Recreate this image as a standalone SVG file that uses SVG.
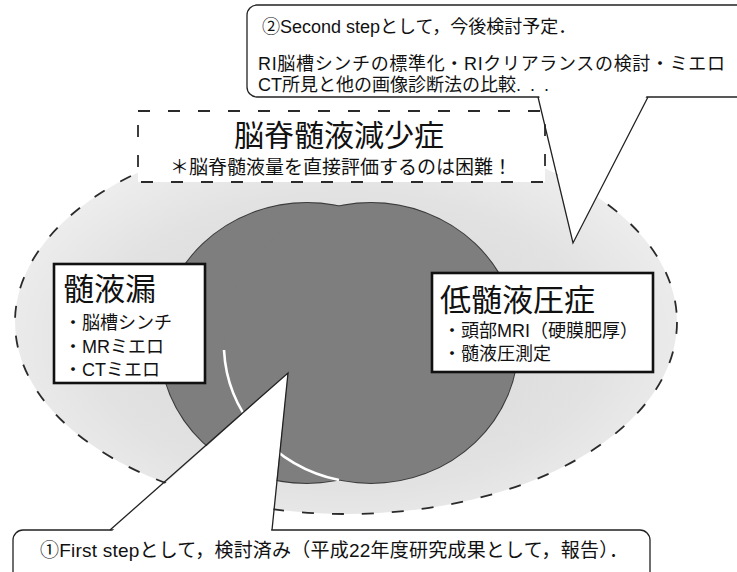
<svg xmlns="http://www.w3.org/2000/svg" width="737" height="572" viewBox="0 0 737 572">
<defs>
<radialGradient id="speck" cx="0.5" cy="0.55" r="0.55">
<stop offset="0" stop-color="#d6d6d6"/>
<stop offset="0.7" stop-color="#e2e2e2"/>
<stop offset="1" stop-color="#eeeeee"/>
</radialGradient>
<style>
text{font-family:"Liberation Sans","Noto Sans CJK JP",sans-serif;fill:#111}
.dash{fill:none;stroke:#2a2a2a;stroke-width:1.8;stroke-dasharray:12 18}
.box{fill:#fff;stroke:#111;stroke-width:2.6}
.call{fill:#fff;stroke:#222;stroke-width:1.3}
.ptr{fill:#fff;stroke:none}
.pl{stroke:#222;stroke-width:1.3;fill:none}
.big{font-size:31px}
.item{font-size:18px}
.note{font-size:18px}
</style>
</defs>
<rect width="737" height="572" fill="#fff"/>

<g id="csf-hypovolemia-field">
<ellipse cx="346" cy="322" rx="331" ry="192" fill="url(#speck)"/>
<ellipse cx="346" cy="322" rx="331" ry="192" class="dash"/>
</g>

<g id="overlap">
<ellipse cx="307" cy="343" rx="147" ry="140" fill="#555" stroke="#3a3a3a" stroke-width="2"/>
<ellipse cx="371" cy="343" rx="147" ry="140" fill="#555" stroke="#3a3a3a" stroke-width="2"/>
<ellipse cx="307" cy="343" rx="147" ry="140" fill="#7e7e7e"/>
<ellipse cx="371" cy="343" rx="147" ry="140" fill="#7e7e7e"/>
<path d="M224 350 A147 140 0 0 0 339 480" fill="none" stroke="#fff" stroke-width="2.6"/>
</g>

<g id="title">
<rect x="138" y="111" width="407" height="71" fill="#fff"/>
<rect x="138" y="111" width="407" height="71" class="dash"/>
<text x="339" y="146" font-size="30" text-anchor="middle">脳脊髄液減少症</text>
<text x="341" y="174" font-size="19" text-anchor="middle">＊脳脊髄液量を直接評価するのは困難！</text>
</g>

<g id="second-step">
<rect x="247" y="5" width="510" height="92" rx="10" class="call"/>
<text x="262" y="33" class="note">②Second stepとして，今後検討予定．</text>
<text x="258" y="70" class="note" textLength="467" lengthAdjust="spacing">RI脳槽シンチの標準化・RIクリアランスの検討・ミエロ</text>
<text x="258" y="91" class="note">CT所見と他の画像診断法の比較<tspan letter-spacing="9">...</tspan></text>
</g>

<g id="first-step">
<rect x="13" y="530" width="637" height="60" rx="10" class="call"/>
<text x="40" y="557" font-size="19" textLength="588" lengthAdjust="spacing">①First stepとして，検討済み（平成22年度研究成果として，報告）．</text>
</g>

<g id="connectors">
<polygon class="ptr" points="539,95 573,243 647,95"/>
<polyline class="pl" points="538,97 573,243 648,97"/>
<polygon class="ptr" points="111,532 288,373 271,532"/>
<polyline class="pl" points="110,530 288,373 272,530"/>
</g>

<g id="csf-leak">
<rect x="54" y="264" width="151" height="119" class="box"/>
<text x="63" y="300" class="big">髄液漏</text>
<text x="64" y="329" class="item">・脳槽シンチ</text>
<text x="64" y="353" class="item">・MRミエロ</text>
<text x="64" y="376" class="item">・CTミエロ</text>
</g>

<g id="intracranial-hypotension">
<rect x="432" y="273" width="221" height="99" class="box"/>
<text x="440" y="311" class="big">低髄液圧症</text>
<text x="443" y="337" class="item">・頭部MRI（硬膜肥厚）</text>
<text x="443" y="360" class="item">・髄液圧測定</text>
</g>
</svg>
